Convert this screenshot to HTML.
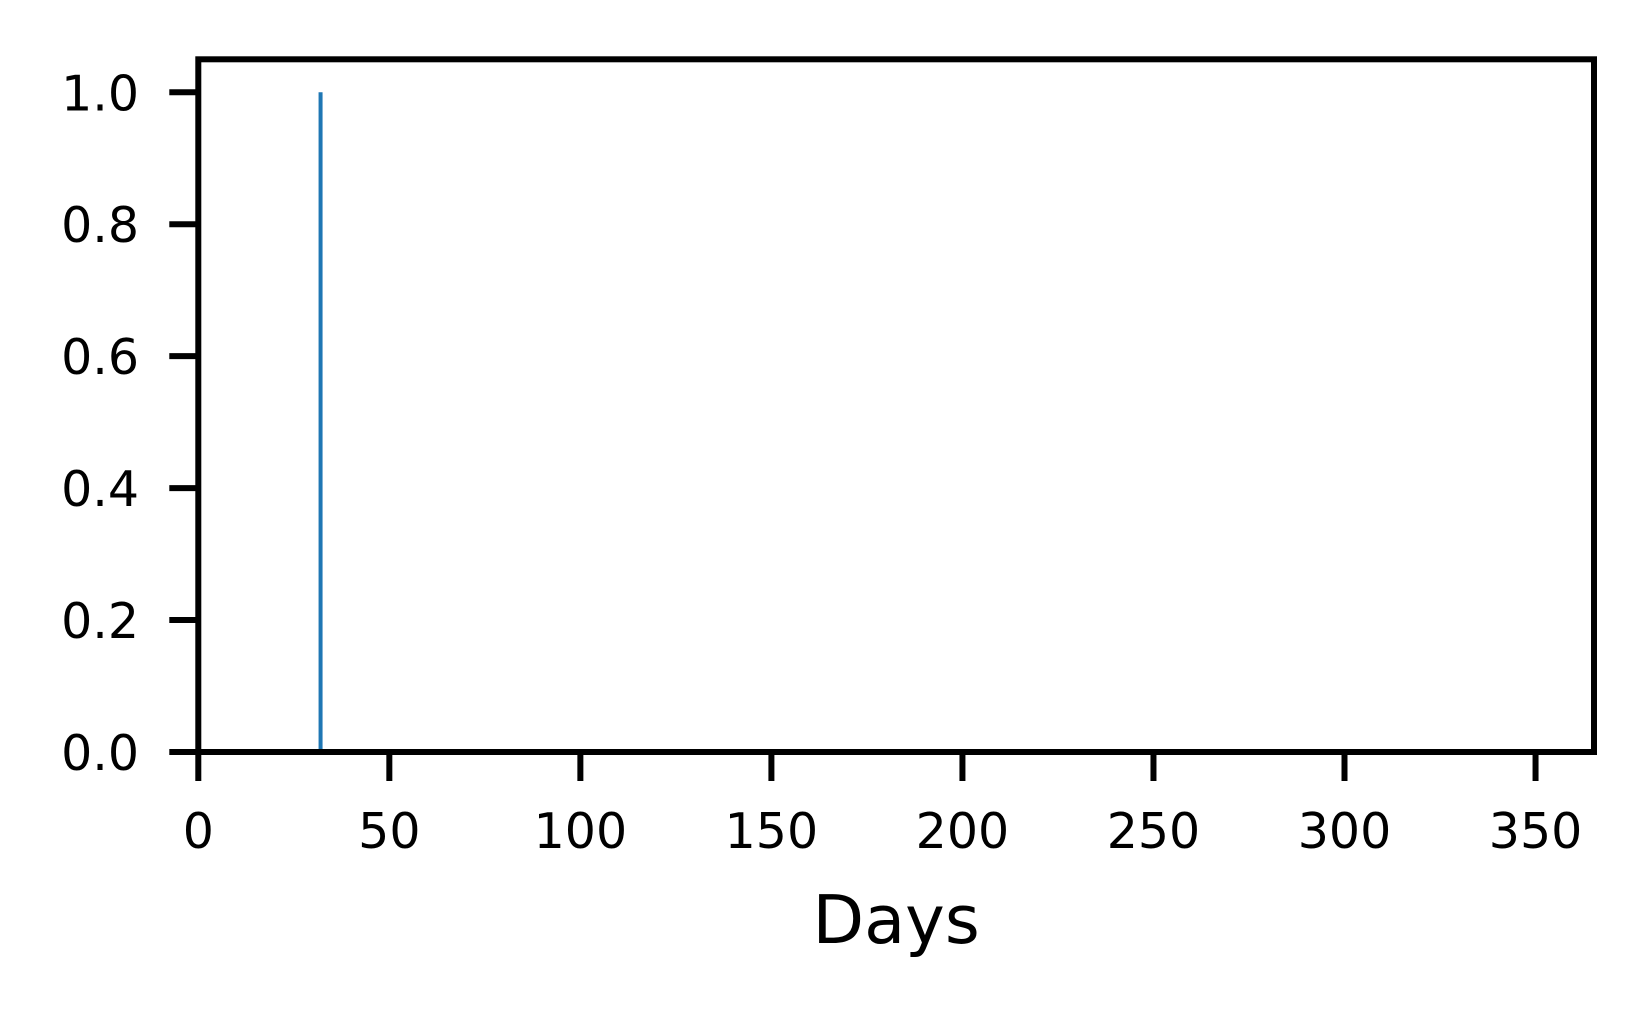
<!DOCTYPE html>
<html><head><meta charset="utf-8"><style>
html,body{margin:0;padding:0;background:#fff;}
svg{display:block;}
text{font-family:"DejaVu Sans","Liberation Sans",sans-serif;fill:#000;}
</style></head><body>
<svg id="chart" width="1652" height="1016" viewBox="0 0 1652 1016">
<rect x="0" y="0" width="1652" height="1016" fill="#fff"/>
<g id="plot"></g>
</svg>
<script>
const xTicks = [0, 50, 100, 150, 200, 250, 300, 350];
const yTicks = [0.0, 0.2, 0.4, 0.6, 0.8, 1.0];
const yTickLabels = ["0.0", "0.2", "0.4", "0.6", "0.8", "1.0"];
const eventDays = [32];
const eventValues = [1.0];
const xDomain = [0, 365.3];
const yDomain = [0, 1.05];

const L = 198.3, R = 1594, T = 59.3, B = 752;
const sx = v => L + (v - xDomain[0]) / (xDomain[1] - xDomain[0]) * (R - L);
const sy = v => B - (v - yDomain[0]) / (yDomain[1] - yDomain[0]) * (B - T);
const NS = "http://www.w3.org/2000/svg";
const g = document.getElementById('plot');
function mk(tag, attrs, parent) {
  const e = document.createElementNS(NS, tag);
  for (const k in attrs) e.setAttribute(k, attrs[k]);
  (parent || g).appendChild(e);
  return e;
}

eventDays.forEach((d, i) => {
  const ln = mk('line', {x1: sx(d), x2: sx(d), y1: sy(0), y2: sy(eventValues[i]), stroke: '#1f77b4', 'stroke-width': 4});
  
  
});

const fr = mk('rect', {x: L, y: T, width: R - L, height: B - T, fill: 'none', stroke: '#000', 'stroke-width': 6, 'stroke-linejoin': 'miter'});



xTicks.forEach(v => {
  const t = mk('line', {x1: sx(v), x2: sx(v), y1: B, y2: B + 29, stroke: '#000', 'stroke-width': 6});
  
  
  const lb = mk('text', {x: sx(v), y: 848, 'font-size': 49, 'text-anchor': 'middle'});
  lb.textContent = String(v);
  
  
});

yTicks.forEach((v, i) => {
  const t = mk('line', {x1: L - 29, x2: L, y1: sy(v), y2: sy(v), stroke: '#000', 'stroke-width': 6});
  
  
  const lb = mk('text', {x: 139, y: sy(v) + 18, 'font-size': 49, 'text-anchor': 'end'});
  lb.textContent = yTickLabels[i];
  
  
});

const xt = mk('text', {x: (L + R) / 2, y: 943, 'font-size': 67, 'text-anchor': 'middle'});
xt.textContent = 'Days';


</script>
</body></html>
